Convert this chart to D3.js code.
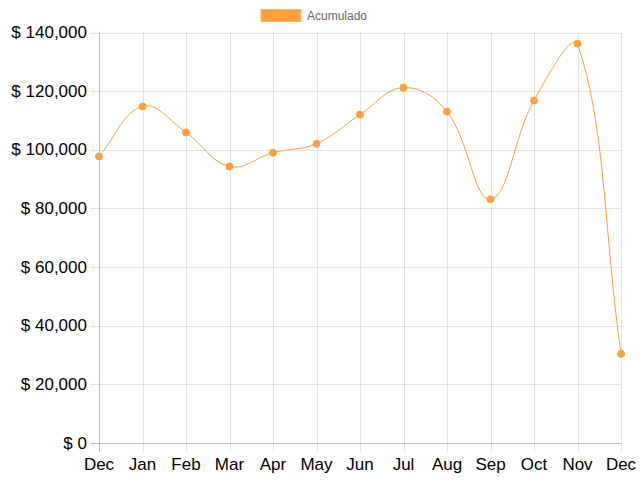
<!DOCTYPE html>
<html>
<head>
<meta charset="utf-8">
<script src="https://cdn.jsdelivr.net/npm/d3@7"></script>
<style>
html,body{margin:0;padding:0;background:#fff;}
svg{display:block;}
text{font-family:"Liberation Sans",Arial,Helvetica,sans-serif;}
</style>
</head>
<body>
<svg id="chart" width="640" height="480"></svg>
<script>
const months = ["Dec","Jan","Feb","Mar","Apr","May","Jun","Jul","Aug","Sep","Oct","Nov","Dec"];
const acumulado = [97700, 114800, 105900, 94300, 99000, 102100, 112000, 121200, 113000, 83100, 116800, 136200, 30400];
const yTicks = [0, 20000, 40000, 60000, 80000, 100000, 120000, 140000];
const seriesName = "Acumulado";
const color = "#ff9f40";

const svg = d3.select("#chart");
const mLeft = 99, mRight = 621, mTop = 32.5, mBottom = 443;

const x = d3.scalePoint().domain(d3.range(months.length)).range([mLeft, mRight]);
const y = d3.scaleLinear().domain([0, 140000]).range([mBottom, mTop]);

const fmt = v => "$ " + d3.format(",")(v);

// grid lines
const grid = svg.append("g");
grid.selectAll("line.h").data(yTicks).join("line")
  .attr("x1", mLeft - 9).attr("x2", mRight)
  .attr("y1", d => Math.round(y(d)) + 0.5).attr("y2", d => Math.round(y(d)) + 0.5)
  .attr("stroke", d => d === 0 ? "rgba(0,0,0,0.25)" : "rgba(0,0,0,0.1)")
  .attr("stroke-width", 1);
grid.selectAll("line.v").data(d3.range(months.length)).join("line")
  .attr("x1", d => Math.round(x(d)) + 0.5).attr("x2", d => Math.round(x(d)) + 0.5)
  .attr("y1", mTop).attr("y2", mBottom + 9)
  .attr("stroke", d => d === 0 ? "rgba(0,0,0,0.25)" : "rgba(0,0,0,0.1)")
  .attr("stroke-width", 1);

// y axis labels
svg.append("g").selectAll("text").data(yTicks).join("text")
  .attr("x", mLeft - 12).attr("y", d => y(d))
  .attr("text-anchor", "end").attr("dominant-baseline", "central")
  .attr("font-size", 17).attr("fill", "#000")
  .text(fmt);

// x axis labels
svg.append("g").selectAll("text").data(months).join("text")
  .attr("x", (d, i) => x(i)).attr("y", 470)
  .attr("text-anchor", "middle")
  .attr("font-size", 17).attr("fill", "#000")
  .text(d => d);

// Chart.js-style spline curve
function chartSpline(context) {
  let pts = [];
  return {
    areaStart() {}, areaEnd() {},
    lineStart() { pts = []; },
    point(px, py) { pts.push([px, py]); },
    lineEnd() {
      const t = 0.4, n = pts.length;
      const clampX = v => Math.max(mLeft, Math.min(mRight, v));
      const clampY = v => Math.max(mTop, Math.min(mBottom, v));
      const cps = pts.map((p, i) => {
        const prev = pts[Math.max(0, i - 1)], next = pts[Math.min(n - 1, i + 1)];
        const d01 = Math.hypot(p[0] - prev[0], p[1] - prev[1]);
        const d12 = Math.hypot(next[0] - p[0], next[1] - p[1]);
        let s01 = d01 / (d01 + d12), s12 = d12 / (d01 + d12);
        if (isNaN(s01)) s01 = 0; if (isNaN(s12)) s12 = 0;
        const fa = t * s01, fb = t * s12;
        return {
          prev: [clampX(p[0] - fa * (next[0] - prev[0])), clampY(p[1] - fa * (next[1] - prev[1]))],
          next: [clampX(p[0] + fb * (next[0] - prev[0])), clampY(p[1] + fb * (next[1] - prev[1]))]
        };
      });
      context.moveTo(pts[0][0], pts[0][1]);
      for (let i = 1; i < n; i++) {
        context.bezierCurveTo(cps[i - 1].next[0], cps[i - 1].next[1], cps[i].prev[0], cps[i].prev[1], pts[i][0], pts[i][1]);
      }
    }
  };
}

const line = d3.line().x((d, i) => x(i)).y(d => y(d)).curve(chartSpline);
svg.append("path").datum(acumulado)
  .attr("d", line).attr("fill", "none")
  .attr("stroke", color).attr("stroke-width", 1);

svg.append("g").selectAll("circle").data(acumulado).join("circle")
  .attr("cx", (d, i) => x(i)).attr("cy", d => y(d)).attr("r", 3.5)
  .attr("fill", color).attr("stroke", color).attr("stroke-width", 1);

// legend
const lg = svg.append("g");
lg.append("rect").attr("x", 261).attr("y", 9.5).attr("width", 40).attr("height", 12)
  .attr("fill", color).attr("stroke", "#ffb26b").attr("stroke-width", 1);
lg.append("text").attr("x", 307).attr("y", 20).attr("font-size", 12).attr("fill", "#666").text(seriesName);
</script>
</body>
</html>
